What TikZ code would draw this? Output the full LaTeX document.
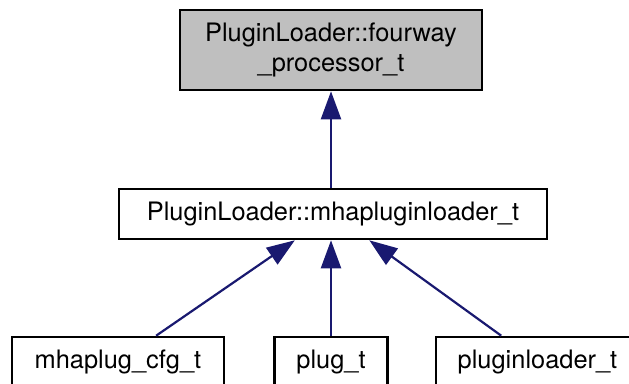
\documentclass[tikz,border=0pt]{standalone}
\usepackage{fontspec}
\setmainfont{TeX Gyre Heros}
\usetikzlibrary{arrows.meta}
\definecolor{edgeblue}{HTML}{191970}
\definecolor{basegray}{HTML}{BFBFBF}

\begin{document}
\begin{tikzpicture}[x=1pt, y=1pt, font=\fontsize{25.4}{30}\selectfont,
    klasa/.style={rectangle, draw=black, line width=2.6pt, fill=white,
                  minimum height=50pt, inner sep=0pt, text centered, align=center},
    baza/.style={klasa, fill=basegray, minimum height=80pt},
    nasl/.style={{Triangle[length=28pt, width=20pt]}-, line width=2.2pt, draw=edgeblue}]

    \useasboundingbox (0,0) rectangle (629,-383);

    \node (fourway) [baza,  minimum width=302pt] at (331,-50)    {PluginLoader::fourway\\\_processor\_t};
    \node (loader)  [klasa, minimum width=428pt] at (333,-214)   {PluginLoader::mhapluginloader\_t};
    \node (cfg)     [klasa, minimum width=212pt] at (118,-362)   {mhaplug\_cfg\_t};
    \node (plug)    [klasa, minimum width=113pt] at (331,-362)   {plug\_t};
    \node (pload)   [klasa, minimum width=203pt] at (537.5,-362) {pluginloader\_t};

    % nasledjivanje
    \draw [nasl] (fourway) -- (fourway |- loader.north);
    \draw [nasl] (loader) -- (cfg);
    \draw [nasl] (plug |- loader.south) -- (plug);
    \draw [nasl] (loader) -- (pload);
\end{tikzpicture}
\end{document}
